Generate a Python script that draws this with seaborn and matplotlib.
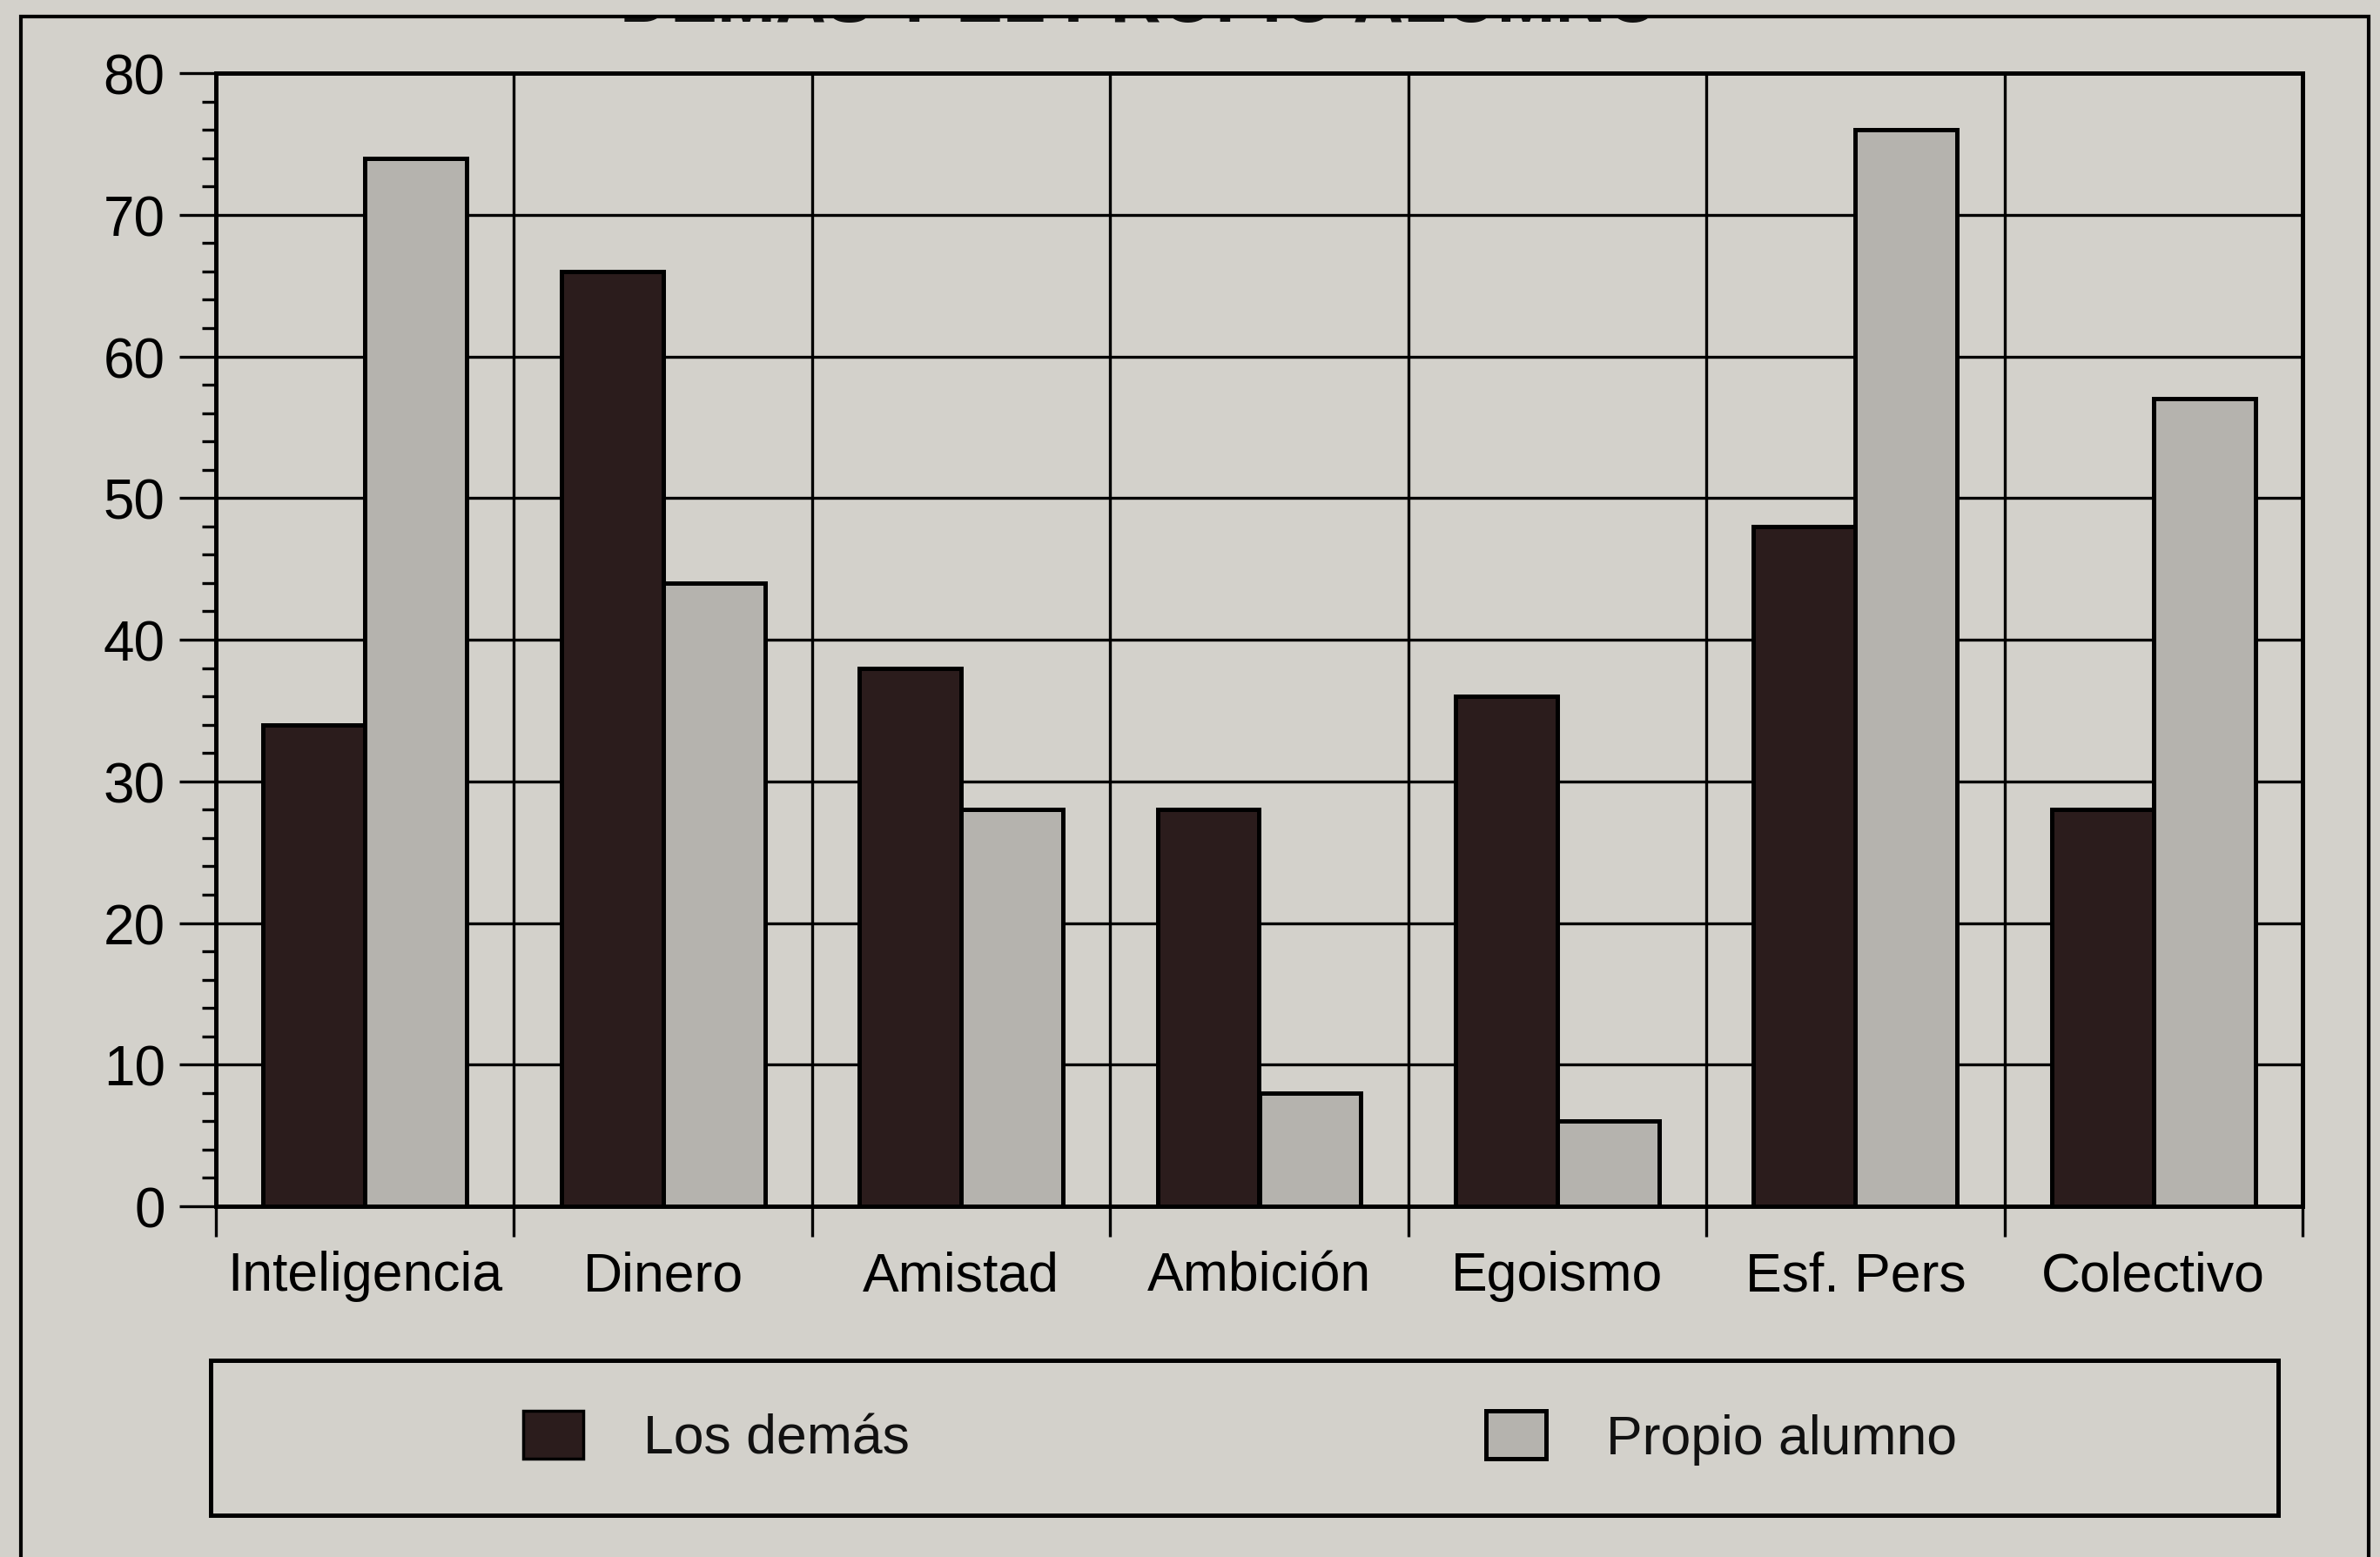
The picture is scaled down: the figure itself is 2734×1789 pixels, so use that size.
import numpy as np
import pandas as pd
import matplotlib
matplotlib.use("Agg")
import matplotlib.pyplot as plt
import matplotlib.patches as mpatches
from matplotlib.transforms import Bbox, TransformedBbox
import seaborn as sns

# ---- data -------------------------------------------------------------
categorias = ["Inteligencia", "Dinero", "Amistad", "Ambición",
              "Egoismo", "Esf. Pers", "Colectivo"]
los_demas = [34, 66, 38, 28, 36, 48, 28]
propio_alumno = [74, 44, 28, 8, 6, 76, 57]
series = ["Los demás", "Propio alumno"]
y_ticks = list(range(0, 81, 10))
titulo = "DEMÁS Y EL PROPIO ALUMNO"

df = pd.DataFrame({
    "Categoría": categorias * 2,
    "Valor": los_demas + propio_alumno,
    "Grupo": [series[0]] * len(categorias) + [series[1]] * len(categorias),
})

# ---- style ------------------------------------------------------------
bg = "#d3d1cb"
dark = "#2b1c1c"
light = "#b5b3ae"

sns.set_style("ticks")
plt.rcParams["font.family"] = ["Liberation Sans", "DejaVu Sans"]
plt.rcParams["axes.edgecolor"] = "black"
plt.rcParams["xtick.color"] = "black"
plt.rcParams["ytick.color"] = "black"
plt.rcParams["text.color"] = "#111111"

W, H = 2734, 1790
fig = plt.figure(figsize=(W / 100, H / 100), dpi=100)
fig.patch.set_facecolor(bg)

ax = fig.add_axes([248 / W, 1 - 1387 / H, (2645 - 248) / W, (1387 - 85) / H])
ax.set_facecolor(bg)

sns.barplot(data=df, x="Categoría", y="Valor", hue="Grupo",
            order=categorias, hue_order=series, palette=[dark, light],
            width=0.683, edgecolor="black", linewidth=3.6,
            saturation=1, legend=False, ax=ax)

ax.set_xlim(-0.5, len(categorias) - 0.5)
ax.set_ylim(0, 80)
ax.set_xlabel("")
ax.set_ylabel("")

# category separators as major ticks, names on minor ticks
ax.set_xticks(np.arange(-0.5, len(categorias), 1.0))
ax.set_xticklabels([])
ax.set_xticks(np.arange(len(categorias)), minor=True)
ax.set_xticklabels(categorias, minor=True)
ax.tick_params(axis="x", which="major", length=25, width=2.4, direction="out")
ax.tick_params(axis="x", which="minor", length=0, pad=36, labelsize=45)

ax.set_yticks(y_ticks)
ax.set_yticks(np.arange(0, 81, 2), minor=True)
ax.tick_params(axis="y", which="major", length=30, width=2.4, pad=12, labelsize=46)
ax.tick_params(axis="y", which="minor", length=11.5, width=2.4)

ax.grid(True, which="major", color="black", linewidth=2.4)
ax.set_axisbelow(True)
for s in ax.spines.values():
    s.set_visible(True)
    s.set_linewidth(3.6)
    s.set_color("black")

# legend inside its own framed box
handles = [mpatches.Patch(facecolor=dark, edgecolor="black", linewidth=2.5),
           mpatches.Patch(facecolor=light, edgecolor="black", linewidth=3.6)]
ax.legend(handles, series, loc="center", bbox_to_anchor=(0.521, 0.0765),
          bbox_transform=fig.transFigure, ncol=2, frameon=False, fontsize=45,
          handlelength=1.1, handleheight=0.96, handletextpad=1.1,
          columnspacing=10.6)
fig.add_artist(mpatches.Rectangle((242 / W, 1 - 1742 / H), (2617 - 242) / W,
                                  (1742 - 1564) / H, transform=fig.transFigure,
                                  fill=False, edgecolor="black", linewidth=3.6))

# title band running off the top edge: only its lower rim shows under the frame
t = fig.text(1310 / W, 1 - 25 / H, titulo, ha="center", va="baseline",
             fontsize=58, fontweight="bold", color="#111111", zorder=1)
t.set_clip_box(TransformedBbox(Bbox([[0, 0], [1, 1 - 21 / H]]), fig.transFigure))
t.set_clip_on(True)

# outer frame
fig.add_artist(mpatches.Rectangle((24 / W, -0.05), (2721 - 24) / W,
                                  1.05 - 20 / H, transform=fig.transFigure,
                                  fill=False, edgecolor="black", linewidth=3.0,
                                  zorder=6))

fig.savefig("out.png", dpi=100, facecolor=bg)
